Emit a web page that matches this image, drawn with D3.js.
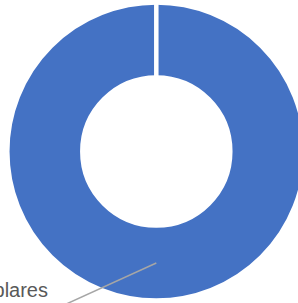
<!DOCTYPE html>
<html>
<head>
<meta charset="utf-8">
<script src="https://cdn.jsdelivr.net/npm/d3@7"></script>
<style>
  html, body { margin: 0; padding: 0; background: #fff; overflow: hidden; }
</style>
</head>
<body>
<div id="chart"></div>
<script>
// data
const categories = ["Ejemplares", "Otros"];
const values = [100, 0];
const colors = ["#4472c4", "#ed7d31"];

var width = 298, height = 303;
var cx = 156.3, cy = 151.5;
var outerR = 149, innerR = 74;

var svg = d3.select("#chart")
    .append("svg")
    .attr("width", width)
    .attr("height", height);

var g = svg.append("g")
    .attr("transform", "translate(" + cx + "," + cy + ")");

var pie = d3.pie().sort(null).value(function(d) { return d.value; });
var data = categories.map(function(c, i) { return { name: c, value: values[i] }; });
var arcs = pie(data);

var arc = d3.arc().innerRadius(innerR).outerRadius(outerR);
var mid = d3.arc().innerRadius((innerR + outerR) / 2).outerRadius((innerR + outerR) / 2);

// slices, white border like the office chart
g.selectAll("path.slice")
    .data(arcs)
    .enter()
    .append("path")
    .attr("class", "slice")
    .attr("d", arc)
    .attr("fill", function(d, i) { return colors[i]; })
    .attr("stroke", "#fff")
    .attr("stroke-width", 4.5);

// leader line + label for the big slice only
var lbl = arcs.filter(function(d) { return d.value > 0; });
var labelX = 48 - cx, labelY = 297 - cy;
var leadDx = -90, leadDy = 41;

g.selectAll("line.leader")
    .data(lbl)
    .enter()
    .append("line")
    .attr("class", "leader")
    .attr("x1", function(d) { return mid.centroid(d)[0]; })
    .attr("y1", function(d) { return mid.centroid(d)[1]; })
    .attr("x2", function(d) { return mid.centroid(d)[0] + leadDx; })
    .attr("y2", function(d) { return mid.centroid(d)[1] + leadDy; })
    .attr("stroke", "#a6a6a6")
    .attr("stroke-width", 1.5);

g.selectAll("text.label")
    .data(lbl)
    .enter()
    .append("text")
    .attr("class", "label")
    .attr("x", labelX)
    .attr("y", labelY)
    .attr("text-anchor", "end")
    .attr("font-family", "'Liberation Sans', Arial, sans-serif")
    .attr("font-size", "20px")
    .attr("fill", "#595959")
    .text(function(d) { return d.data.name; });
</script>
</body>
</html>
